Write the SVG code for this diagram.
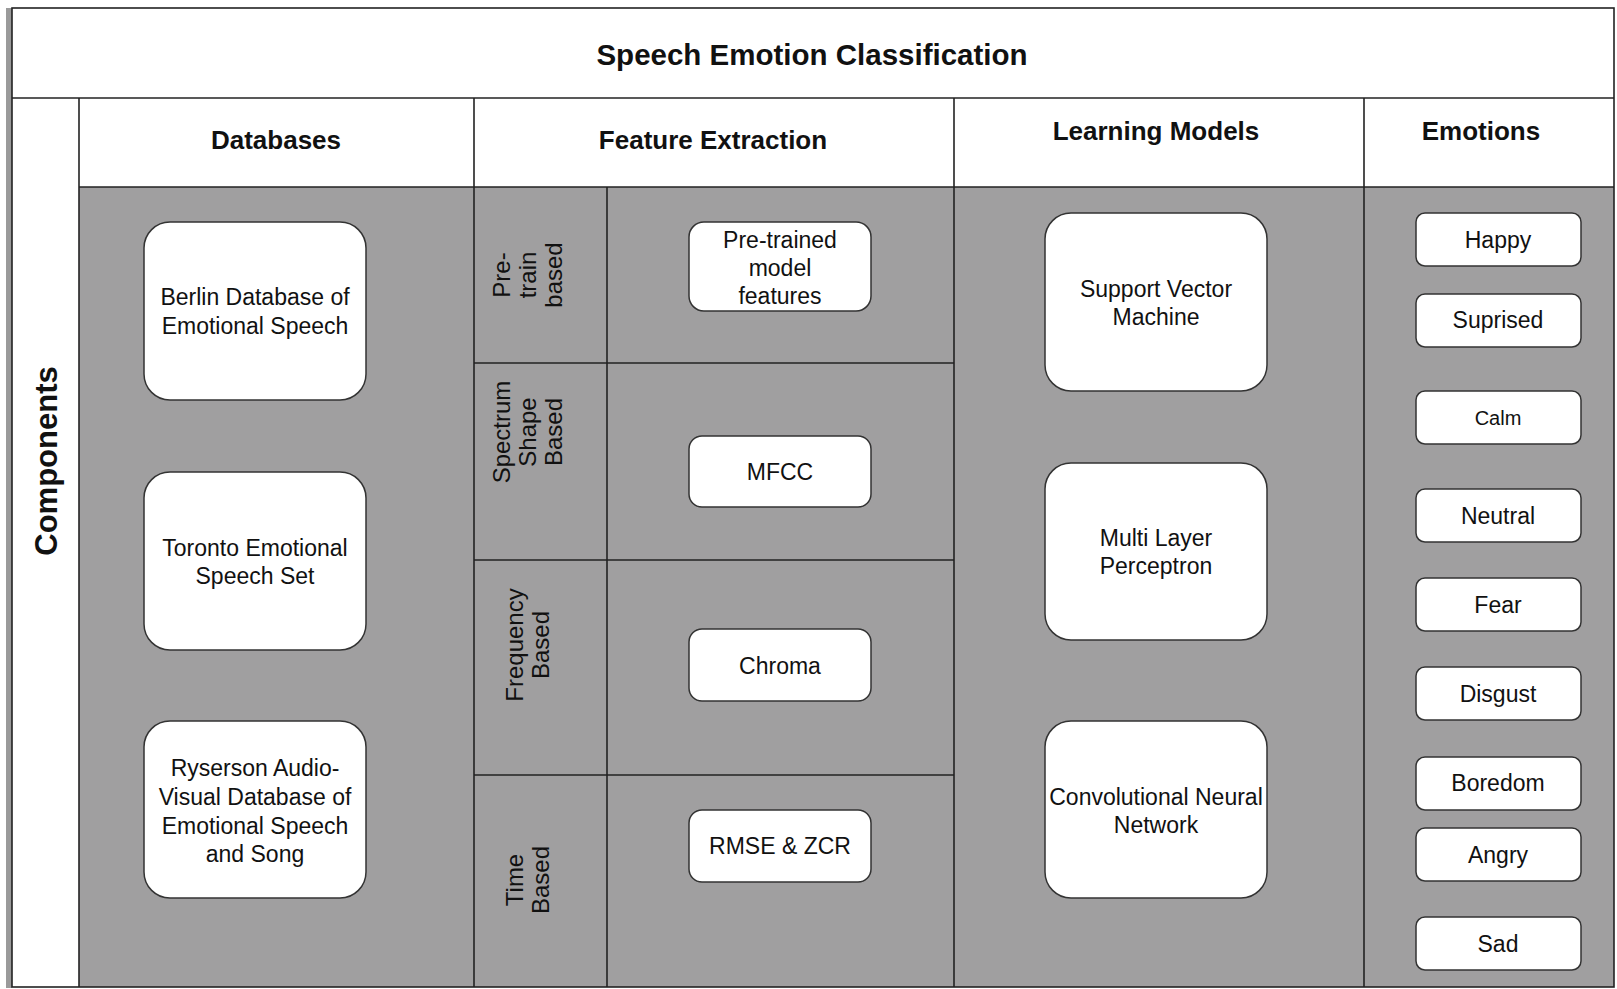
<svg xmlns="http://www.w3.org/2000/svg" width="1617" height="989" viewBox="0 0 1617 989">
<style>
  text { font-family: "Liberation Sans", Arial, Helvetica, sans-serif; fill: #111; text-anchor: middle; dominant-baseline: central; }
  .title { font-size: 29.5px; font-weight: bold; }
  .hdr { font-size: 26px; font-weight: bold; }
  .comp { font-size: 31px; font-weight: bold; }
  .lbl { font-size: 23px; }
  .side { font-size: 24px; }
  .emo { font-size: 23px; }
  .grid { stroke: #222; stroke-width: 1.6; fill: none; }
  .box { fill: #fff; stroke: #333; stroke-width: 1.5; }
</style>
<rect x="0" y="0" width="1617" height="989" fill="#fff"/>
<rect x="6" y="8" width="6" height="980" fill="#9a9a9a"/>
<g id="background">
  <rect x="79" y="187" width="1535" height="800" fill="#a09fa0"/>
</g>
<g id="grid" class="grid">
  <rect x="12" y="8" width="1602" height="979"/>
  <line x1="12" y1="98" x2="1614" y2="98"/>
  <line x1="79" y1="98" x2="79" y2="987"/>
  <line x1="79" y1="187" x2="1614" y2="187"/>
  <line x1="474" y1="98" x2="474" y2="987"/>
  <line x1="954" y1="98" x2="954" y2="987"/>
  <line x1="1364" y1="98" x2="1364" y2="987"/>
  <line x1="607" y1="187" x2="607" y2="987"/>
  <line x1="474" y1="363" x2="954" y2="363"/>
  <line x1="474" y1="560" x2="954" y2="560"/>
  <line x1="474" y1="775" x2="954" y2="775"/>
</g>
<g id="connectors"></g>
<g id="title"><text class="title" x="812" y="54">Speech Emotion Classification</text></g>
<g id="components-label"><text class="comp" transform="translate(46,461) rotate(-90)">Components</text></g>
<g id="header-databases"><text class="hdr" x="276" y="140">Databases</text></g>
<g id="header-feature"><text class="hdr" x="713" y="140">Feature Extraction</text></g>
<g id="header-learning"><text class="hdr" x="1156" y="131">Learning Models</text></g>
<g id="header-emotions"><text class="hdr" x="1481" y="131">Emotions</text></g>

<g id="db-berlin">
  <rect class="box" x="144" y="222" width="222" height="178" rx="26"/>
  <text class="lbl" x="255" y="297">Berlin Database of</text>
  <text class="lbl" x="255" y="326">Emotional Speech</text>
</g>
<g id="db-toronto">
  <rect class="box" x="144" y="472" width="222" height="178" rx="26"/>
  <text class="lbl" x="255" y="548">Toronto Emotional</text>
  <text class="lbl" x="255" y="576">Speech Set</text>
</g>
<g id="db-ravdess">
  <rect class="box" x="144" y="721" width="222" height="177" rx="26"/>
  <text class="lbl" x="255" y="768">Ryserson Audio-</text>
  <text class="lbl" x="255" y="797">Visual Database of</text>
  <text class="lbl" x="255" y="826">Emotional Speech</text>
  <text class="lbl" x="255" y="854">and Song</text>
</g>

<g id="cat-pretrain">
  <text class="side" transform="translate(501,275) rotate(-90)">Pre-</text>
  <text class="side" transform="translate(527,275) rotate(-90)">train</text>
  <text class="side" transform="translate(553,275) rotate(-90)">based</text>
</g>
<g id="cat-spectrum">
  <text class="side" transform="translate(501,432) rotate(-90)">Spectrum</text>
  <text class="side" transform="translate(527,432) rotate(-90)">Shape</text>
  <text class="side" transform="translate(553,432) rotate(-90)">Based</text>
</g>
<g id="cat-frequency">
  <text class="side" transform="translate(514,645) rotate(-90)">Frequency</text>
  <text class="side" transform="translate(540,645) rotate(-90)">Based</text>
</g>
<g id="cat-time">
  <text class="side" transform="translate(514,880) rotate(-90)">Time</text>
  <text class="side" transform="translate(540,880) rotate(-90)">Based</text>
</g>

<g id="feat-pretrained">
  <rect class="box" x="689" y="222" width="182" height="89" rx="15"/>
  <text class="lbl" x="780" y="240">Pre-trained</text>
  <text class="lbl" x="780" y="268">model</text>
  <text class="lbl" x="780" y="296">features</text>
</g>
<g id="feat-mfcc">
  <rect class="box" x="689" y="436" width="182" height="71" rx="13"/>
  <text class="lbl" x="780" y="472">MFCC</text>
</g>
<g id="feat-chroma">
  <rect class="box" x="689" y="629" width="182" height="72" rx="13"/>
  <text class="lbl" x="780" y="666">Chroma</text>
</g>
<g id="feat-rmse">
  <rect class="box" x="689" y="810" width="182" height="72" rx="13"/>
  <text class="lbl" x="780" y="846">RMSE &amp; ZCR</text>
</g>

<g id="model-svm">
  <rect class="box" x="1045" y="213" width="222" height="178" rx="26"/>
  <text class="lbl" x="1156" y="289">Support Vector</text>
  <text class="lbl" x="1156" y="317">Machine</text>
</g>
<g id="model-mlp">
  <rect class="box" x="1045" y="463" width="222" height="177" rx="26"/>
  <text class="lbl" x="1156" y="538">Multi Layer</text>
  <text class="lbl" x="1156" y="566">Perceptron</text>
</g>
<g id="model-cnn">
  <rect class="box" x="1045" y="721" width="222" height="177" rx="26"/>
  <text class="lbl" x="1156" y="797">Convolutional Neural</text>
  <text class="lbl" x="1156" y="825">Network</text>
</g>

<g id="emo-happy"><rect class="box" x="1416" y="213" width="165" height="53" rx="9"/><text class="emo" x="1498" y="240">Happy</text></g>
<g id="emo-suprised"><rect class="box" x="1416" y="294" width="165" height="53" rx="9"/><text class="emo" x="1498" y="320">Suprised</text></g>
<g id="emo-calm"><rect class="box" x="1416" y="391" width="165" height="53" rx="9"/><text class="emo" x="1498" y="418" style="font-size:20px">Calm</text></g>
<g id="emo-neutral"><rect class="box" x="1416" y="489" width="165" height="53" rx="9"/><text class="emo" x="1498" y="516">Neutral</text></g>
<g id="emo-fear"><rect class="box" x="1416" y="578" width="165" height="53" rx="9"/><text class="emo" x="1498" y="605">Fear</text></g>
<g id="emo-disgust"><rect class="box" x="1416" y="667" width="165" height="53" rx="9"/><text class="emo" x="1498" y="694">Disgust</text></g>
<g id="emo-boredom"><rect class="box" x="1416" y="757" width="165" height="53" rx="9"/><text class="emo" x="1498" y="783">Boredom</text></g>
<g id="emo-angry"><rect class="box" x="1416" y="828" width="165" height="53" rx="9"/><text class="emo" x="1498" y="855">Angry</text></g>
<g id="emo-sad"><rect class="box" x="1416" y="917" width="165" height="53" rx="9"/><text class="emo" x="1498" y="944">Sad</text></g>
</svg>
